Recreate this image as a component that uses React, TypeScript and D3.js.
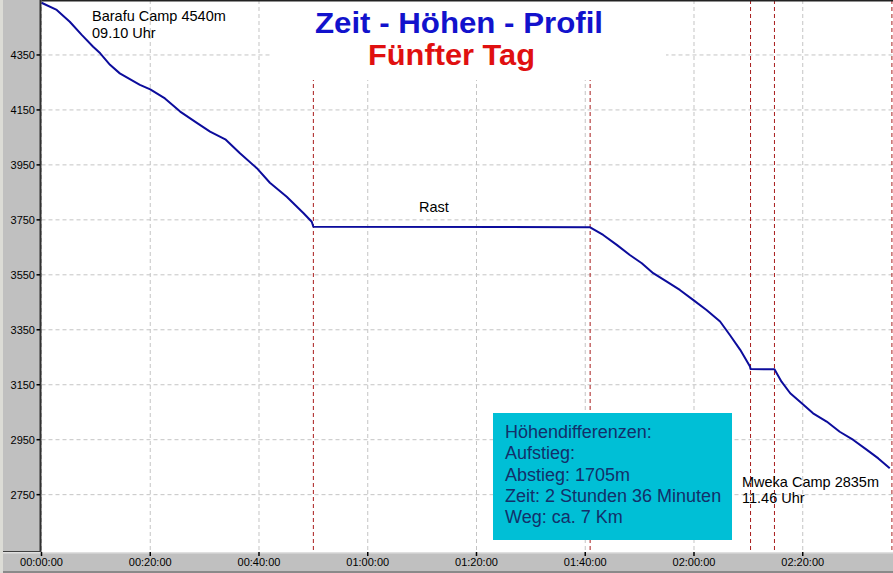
import React from "react";
import * as d3 from "d3";

// minutes since start (09:10) and altitude in m
const times = [0, 2.8, 5.2, 7.4, 9.5, 10.8, 12.6, 14.4, 18.1, 20, 22.7, 25.5, 28.5, 31, 33.8, 36.5, 39.6, 42, 45.1, 48.2, 49.7, 50,
  100.9, 103.3, 105.8, 108.2, 110.4, 112.5, 115, 117.4, 119.9, 122.3, 124.8, 126.6, 128.5, 130.3, 130.4,
  134.8, 136.1, 137.7, 139.5, 141.9, 144.4, 146.8, 149.3, 151.8, 153.9, 156];
const altitudes = [4540, 4514, 4471, 4423, 4380, 4356, 4314, 4283, 4241, 4225, 4192, 4144, 4104, 4071, 4043, 3992, 3938, 3885, 3834, 3774, 3743, 3725,
  3723, 3695, 3659, 3622, 3592, 3556, 3525, 3495, 3458, 3422, 3380, 3331, 3277, 3216, 3207,
  3206, 3161, 3119, 3088, 3046, 3016, 2979, 2949, 2913, 2882, 2846];
const yTicks = [2750, 2950, 3150, 3350, 3550, 3750, 3950, 4150, 4350];
const xTicks = [0, 20, 40, 60, 80, 100, 120, 140];
const markerTimes = [50, 100.9, 130.4, 134.8, 156.4];
const infoLines = ["Höhendifferenzen:", "Aufstieg:", "Abstieg: 1705m", "Zeit: 2 Stunden 36 Minuten", "Weg: ca. 7 Km"];
const title = "Zeit - Höhen - Profil";
const subtitle = "Fünfter Tag";

const W = 893, H = 573;
const FONT = "'Liberation Sans', Arial, sans-serif";

const fmtTime = (m: number) => {
  const h = Math.floor(m / 60);
  const mm = m % 60;
  const p = (n: number) => String(n).padStart(2, "0");
  return `${p(h)}:${p(mm)}:00`;
};

export default function App() {
  const x = d3.scaleLinear().domain([0, 156.6]).range([41.5, 893]);
  const y = d3.scaleLinear().domain([2545, 4550]).range([551, 0]);
  const data = times.map((t, i) => [t, altitudes[i]] as [number, number]);
  const line = d3.line<[number, number]>().x(d => x(d[0])).y(d => y(d[1]));
  const plotTop = 0, plotBottom = 551, plotLeft = 41.5, plotRight = 893;

  return (
    <svg width={W} height={H} style={{ position: "absolute", left: 0, top: 0, background: "#fff" }} fontFamily={FONT}>
      <rect x={0} y={0} width={W} height={H} fill="#fff" />
      {/* grid */}
      {yTicks.map(v => (
        <line key={"gy" + v} x1={plotLeft} x2={plotRight} y1={y(v)} y2={y(v)} stroke="#c4c4c4" strokeDasharray="4,3" />
      ))}
      {xTicks.map(t => (
        <line key={"gx" + t} x1={x(t)} x2={x(t)} y1={plotTop} y2={plotBottom} stroke="#c4c4c4" strokeDasharray="4,3" />
      ))}
      {/* markers */}
      {markerTimes.map(t => (
        <line key={"m" + t} x1={x(t)} x2={x(t)} y1={plotTop} y2={plotBottom} stroke="#a81c1c" strokeDasharray="4,3" />
      ))}
      {/* title background */}
      <rect x={270} y={0} width={396} height={80} fill="#fff" />
      <text x={315} y={32.5} textLength={288} lengthAdjust="spacingAndGlyphs" fontSize={29} fontWeight="bold" fill="#1212cc">{title}</text>
      <text x={368} y={64.5} textLength={167} lengthAdjust="spacingAndGlyphs" fontSize={29} fontWeight="bold" fill="#e01010">{subtitle}</text>
      {/* profile line */}
      <path d={line(data) || ""} fill="none" stroke="#0c0c9c" strokeWidth={2} strokeLinejoin="round" />
      {/* labels */}
      <text x={92} y={21} fontSize={14.5} fill="#000">Barafu Camp 4540m</text>
      <text x={92} y={38} fontSize={14.5} fill="#000">09.10 Uhr</text>
      <text x={419} y={212} fontSize={14.5} fill="#000">Rast</text>
      <text x={742} y={487} fontSize={14.5} fill="#000">Mweka Camp 2835m</text>
      <text x={742} y={503} fontSize={14.5} fill="#000">11.46 Uhr</text>
      {/* info box */}
      <rect x={493} y={413} width={239} height={127} fill="#00bfd6" />
      {infoLines.map((s, i) => (
        <text key={s} x={505} y={438 + i * 21.3} fontSize={18} fill="#13306a">{s}</text>
      ))}
      {/* top border */}
      <line x1={plotLeft} x2={W} y1={0.75} y2={0.75} stroke="#222" strokeWidth={1.5} />
      {/* left panel */}
      <rect x={0} y={0} width={40} height={552} fill="#c0c0c0" />
      <rect x={0} y={0} width={3} height={552} fill="#dcdcd6" />
      <line x1={40.5} x2={40.5} y1={0} y2={552} stroke="#303030" strokeWidth={2} />
      <line x1={3} x2={41} y1={551.5} y2={551.5} stroke="#404040" strokeWidth={1} />
      {/* bottom band */}
      <rect x={0} y={552} width={W} height={21} fill="#c0c0c0" />
      <rect x={0} y={552} width={W} height={1.5} fill="#e0e0e0" />
      <rect x={0} y={571} width={W} height={2} fill="#8a8a8a" />
      <rect x={0} y={552} width={3} height={21} fill="#dcdcd6" />
      {/* y axis ticks */}
      {yTicks.map(v => (
        <g key={"ty" + v}>
          <line x1={36.5} x2={40} y1={y(v)} y2={y(v)} stroke="#000" strokeWidth={1.5} />
          <text x={35} y={y(v)} dy="0.35em" textAnchor="end" fontSize={11} fill="#000">{v}</text>
        </g>
      ))}
      {/* x axis ticks */}
      {xTicks.map(t => (
        <g key={"tx" + t}>
          <line x1={x(t)} x2={x(t)} y1={552} y2={556} stroke="#000" strokeWidth={1.5} />
          <text x={x(t)} y={566} textAnchor="middle" fontSize={11} fill="#000">{fmtTime(t)}</text>
        </g>
      ))}
    </svg>
  );
}
